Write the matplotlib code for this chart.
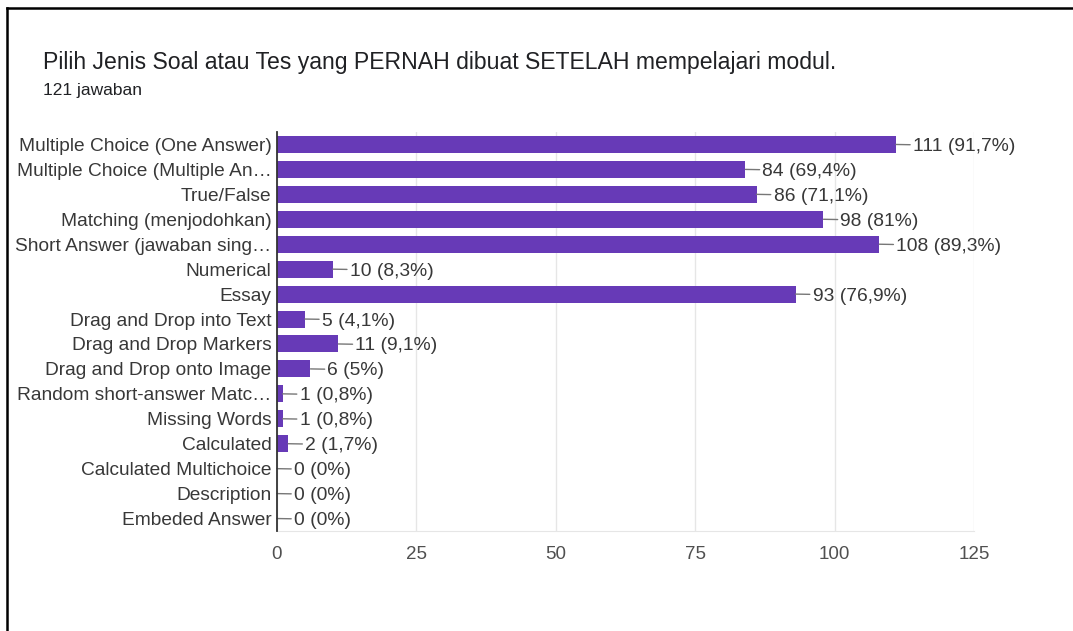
import matplotlib.pyplot as plt
from matplotlib.lines import Line2D

plt.rcParams['font.family'] = ['Liberation Sans', 'DejaVu Sans']

categories = ['Multiple Choice (One Answer)', 'Multiple Choice (Multiple An\u2026',
              'True/False', 'Matching (menjodohkan)', 'Short Answer (jawaban sing\u2026',
              'Numerical', 'Essay', 'Drag and Drop into Text', 'Drag and Drop Markers',
              'Drag and Drop onto Image', 'Random short-answer Matc\u2026', 'Missing Words',
              'Calculated', 'Calculated Multichoice', 'Description', 'Embeded Answer']
counts = [111, 84, 86, 98, 108, 10, 93, 5, 11, 6, 1, 1, 2, 0, 0, 0]
percents = ['91,7%', '69,4%', '71,1%', '81%', '89,3%', '8,3%', '76,9%', '4,1%',
            '9,1%', '5%', '0,8%', '0,8%', '1,7%', '0%', '0%', '0%']
xticks = [0, 25, 50, 75, 100, 125]

W, H = 1073, 631
fig = plt.figure(figsize=(W / 100, H / 100), dpi=100)
ax = fig.add_axes([277 / W, 1 - 531 / H, (974 - 277) / W, (531 - 132) / H])

y = list(range(len(categories)))
ax.barh(y, counts, height=0.68, color='#673ab7', zorder=3)
ax.set_ylim(len(categories) - 0.5, -0.5)
ax.set_xlim(0, 125)
ax.set_yticks(y)
ax.set_yticklabels(categories, fontsize=13.8, color='#383838')
ax.set_xticks(xticks)
ax.set_xticklabels([str(t) for t in xticks], fontsize=13.5, color='#505050')
ax.tick_params(axis='both', length=0)
ax.tick_params(axis='y', pad=4)
ax.tick_params(axis='x', pad=11)
ax.grid(axis='x', color='#e6e6e6', linewidth=1, zorder=0)

for s in ['top', 'right']:
    ax.spines[s].set_visible(False)
ax.spines['bottom'].set_color('#e6e6e6')
ax.spines['left'].set_color('#333333')
ax.spines['left'].set_linewidth(1.3)
ax.spines['left'].set_zorder(4)

for i, (c, p) in enumerate(zip(counts, percents)):
    ax.annotate(f'{c} ({p})', xy=(c, i), xytext=(17, -2), textcoords='offset pixels',
                ha='left', va='center', fontsize=13.9, color='#383838',
                arrowprops=dict(arrowstyle='-', color='#777777', lw=1,
                                shrinkA=0, shrinkB=0, relpos=(0, 0.6)))

fig.text(43 / W, 1 - 62 / H, 'Pilih Jenis Soal atau Tes yang PERNAH dibuat SETELAH mempelajari modul.',
         fontsize=16.6, color='#202124', va='center', ha='left')
fig.text(43 / W, 1 - 91 / H, '121 jawaban', fontsize=12.5, color='#202124', va='center', ha='left')

# outer frame (top and left edges visible)
fig.add_artist(Line2D([7 / W, 1], [1 - 8 / H, 1 - 8 / H], color='black', lw=1.8))
fig.add_artist(Line2D([7 / W, 7 / W], [0, 1 - 8 / H], color='black', lw=1.8))

fig.savefig('out.png', dpi=100)
